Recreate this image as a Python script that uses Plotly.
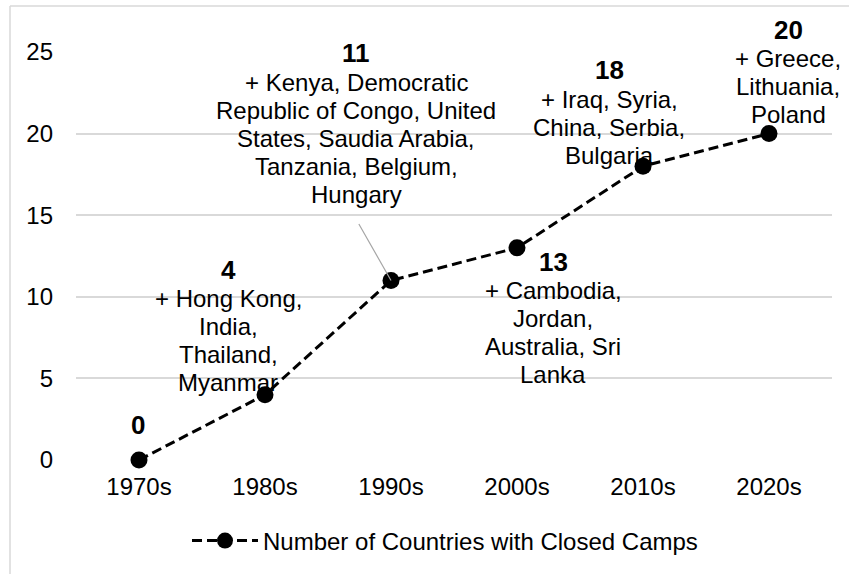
import plotly.graph_objects as go

# ---- data ----
decades = ["1970s", "1980s", "1990s", "2000s", "2010s", "2020s"]
counts = [0, 4, 11, 13, 18, 20]
added = [
    [],
    ["+ Hong Kong,", "India,", "Thailand,", "Myanmar"],
    ["+ Kenya, Democratic", "Republic of Congo, United", "States, Saudia Arabia,", "Tanzania, Belgium,", "Hungary"],
    ["+ Cambodia,", "Jordan,", "Australia, Sri", "Lanka"],
    ["+ Iraq, Syria,", "China, Serbia,", "Bulgaria"],
    ["+ Greece,", "Lithuania,", "Poland"],
]
series_name = "Number of Countries with Closed Camps"
y_ticks = [0, 5, 10, 15, 20, 25]

# ---- label placement (pixel offsets from each point: block centre x, value-label centre y) ----
label_dx = [-1, -37, -35, 36, -34, 19]
label_dy = [-35, -125, -227, 14, -96, -104]
first_gap = 29
line_gap = 28

FONT = "Liberation Sans, Arial, sans-serif"
W, H = 849, 574
L, R, T, B = 76, W - 832, 52, H - 460
pw, ph = W - L - R, H - T - B


def px_x(px):
    return (px - L) / pw


def px_y(py):
    return (H - B - py) / ph


fig = go.Figure()
fig.add_trace(go.Scatter(
    x=decades, y=counts, mode="lines+markers", name=series_name,
    line=dict(color="black", width=3, dash="10px,5px"),
    marker=dict(color="black", size=17),
    cliponaxis=False,
))

annotations = []
for i, (d, v) in enumerate(zip(decades, counts)):
    annotations.append(dict(
        x=d, y=v, xref="x", yref="y", text=f"<b>{v}</b>", showarrow=False,
        xshift=label_dx[i], yshift=-label_dy[i], yanchor="middle", xanchor="center",
        font=dict(family=FONT, size=26, color="black"),
    ))
    for j, line in enumerate(added[i]):
        annotations.append(dict(
            x=d, y=v, xref="x", yref="y", text=line, showarrow=False,
            xshift=label_dx[i], yshift=-(label_dy[i] + first_gap + j * line_gap),
            yanchor="middle", xanchor="center",
            font=dict(family=FONT, size=24, color="black"),
        ))

# leader line for the 1990s label
annotations.append(dict(
    x=decades[2], y=counts[2], xref="x", yref="y", text="", showarrow=True,
    arrowhead=0, arrowwidth=1.2, arrowcolor="#a6a6a6", ax=-33, ay=-58, standoff=0,
))

shapes = [
    dict(type="line", xref="paper", yref="paper", x0=px_x(10), x1=px_x(10), y0=px_y(6), y1=px_y(600),
         line=dict(color="#d9d9d9", width=1.5)),
    dict(type="line", xref="paper", yref="paper", x0=px_x(10), x1=px_x(900), y0=px_y(6), y1=px_y(6),
         line=dict(color="#d9d9d9", width=1.5)),
]

fig.update_layout(
    template="none",
    width=W, height=H, autosize=False,
    margin=dict(l=L, r=R, t=T, b=B, pad=0, autoexpand=False),
    paper_bgcolor="white", plot_bgcolor="white",
    font=dict(family=FONT, size=24, color="black"),
    showlegend=True,
    legend=dict(orientation="h", x=px_x(187), xanchor="left", y=px_y(541), yanchor="middle",
                font=dict(family=FONT, size=24, color="black"), itemwidth=66,
                bgcolor="rgba(0,0,0,0)", borderwidth=0),
    xaxis=dict(type="category", range=[-0.5, len(decades) - 0.5], showgrid=False, showline=False,
               zeroline=False, ticks="", automargin=False,
               tickfont=dict(family=FONT, size=24, color="black"), ticklabelstandoff=10),
    yaxis=dict(range=[0, 25], tickvals=y_ticks, showgrid=True, gridcolor="#d9d9d9", gridwidth=1.5,
               zeroline=False, showline=False, ticks="", automargin=False,
               tickfont=dict(family=FONT, size=24, color="black"), ticklabelstandoff=22),
    annotations=annotations,
    shapes=shapes,
)

fig.write_html("out.html")
